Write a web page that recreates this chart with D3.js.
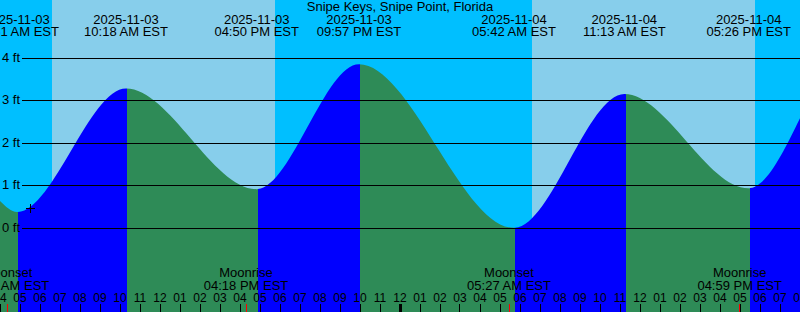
<!DOCTYPE html>
<html>
<head>
<meta charset="utf-8">
<script src="https://cdn.jsdelivr.net/npm/d3@7"></script>
<style>
  body { margin: 0; background: #fff; }
  svg { display: block; font-family: "Liberation Sans", Arial, sans-serif; }
</style>
</head>
<body>
<div id="chart"></div>
<script>
// station
var stationName = "Snipe Keys, Snipe Point, Florida";

// visible time window
var startTime = "2025-11-03 04:00";
var endTime   = "2025-11-04 20:00";

// high / low tides (EST, ft)
var tideTimes   = ["2025-11-03 04:51", "2025-11-03 10:18", "2025-11-03 16:50", "2025-11-03 21:57",
                   "2025-11-04 05:42", "2025-11-04 11:13", "2025-11-04 17:26"];
var tideHeights = [0.38, 3.29, 0.92, 3.86, 0.01, 3.16, 0.94];

// water level where the curve meets the left / right edge
var edgeTimes   = ["2025-11-03 04:00", "2025-11-04 20:00"];
var edgeHeights = [0.64, 2.59];

// sunrise / sunset
var sunriseTimes = ["2025-11-03 06:36", "2025-11-04 06:36"];
var sunsetTimes  = ["2025-11-03 17:45", "2025-11-04 17:45"];

// moon
var moonTimes  = ["2025-11-03 04:22", "2025-11-03 16:18", "2025-11-04 05:27", "2025-11-04 16:59"];
var moonEvents = ["Moonset", "Moonrise", "Moonset", "Moonrise"];

// height axis
var heightTicks = [0, 1, 2, 3, 4];

// "now" mark
var markTime = "2025-11-03 05:31";
var markHeight = 0.46;

var W = 800, H = 312;
var parse = d3.utcParse("%Y-%m-%d %H:%M");
var fmtDate = d3.utcFormat("%Y-%m-%d");
var fmtTime = d3.utcFormat("%I:%M %p EST");
var fmtHour = d3.utcFormat("%I");

var x = d3.scaleUtc().domain([parse(startTime), parse(endTime)]).range([0, W]);
var y = d3.scaleLinear().domain([0, 4]).range([228.25, 58.25]);

var svg = d3.select("#chart").append("svg")
  .attr("width", W).attr("height", H)
  .attr("viewBox", "0 0 " + W + " " + H);

// night background, then daylight bands
svg.append("rect").attr("width", W).attr("height", H).attr("fill", "#00bfff");
svg.selectAll("rect.day").data(sunriseTimes).enter()
  .append("rect").attr("class", "day")
  .attr("x", function(d) { return Math.round(x(parse(d))); })
  .attr("width", function(d, i) { return Math.round(x(parse(sunsetTimes[i]))) - Math.round(x(parse(d))); })
  .attr("y", 0).attr("height", H)
  .attr("fill", "#87ceeb")
  .attr("shape-rendering", "crispEdges");

// all curve points in time order
var pts = tideTimes.map(function(t, i) { return {t: parse(t), h: tideHeights[i]}; })
  .concat(edgeTimes.map(function(t, i) { return {t: parse(t), h: edgeHeights[i]}; }))
  .sort(function(a, b) { return a.t - b.t; });

// split into rising / falling stretches (the colour turns a column after the extreme)
var defs = svg.append("defs");
var riseClip = defs.append("clipPath").attr("id", "rise");
var fallClip = defs.append("clipPath").attr("id", "fall");
for (var i = 0; i < pts.length - 1; i++) {
  var x0 = i === 0 ? -10 : Math.ceil(x(pts[i].t)) + 1;
  var x1 = i === pts.length - 2 ? W + 10 : Math.ceil(x(pts[i + 1].t)) + 1;
  (pts[i + 1].h > pts[i].h ? riseClip : fallClip).append("rect")
    .attr("x", x0).attr("y", 0).attr("width", x1 - x0).attr("height", H);
}

var area = d3.area()
  .x(function(d) { return x(d.t); })
  .y0(H)
  .y1(function(d) { return y(d.h); })
  .curve(d3.curveMonotoneX);

svg.append("path").datum(pts).attr("d", area)
  .attr("fill", "#0000ff").attr("clip-path", "url(#rise)");
svg.append("path").datum(pts).attr("d", area)
  .attr("fill", "#2e8b57").attr("clip-path", "url(#fall)");

// height grid + labels
var grid = svg.append("g").attr("shape-rendering", "crispEdges");
grid.selectAll("line").data(heightTicks).enter().append("line")
  .attr("x1", 22).attr("x2", W)
  .attr("y1", function(d) { return Math.floor(y(d)) + 0.5; })
  .attr("y2", function(d) { return Math.floor(y(d)) + 0.5; })
  .attr("stroke", "#000").attr("stroke-width", 1);
svg.selectAll("text.ylab").data(heightTicks).enter().append("text")
  .attr("class", "ylab")
  .attr("x", 2)
  .attr("y", function(d) { return Math.floor(y(d)) + 4; })
  .attr("font-size", 13)
  .text(function(d) { return d + " ft"; });

// title
svg.append("text").attr("x", W / 2).attr("y", 11)
  .attr("text-anchor", "middle").attr("font-size", 13)
  .text(stationName);

// tide time labels
var tl = svg.selectAll("g.tlab").data(tideTimes).enter().append("g")
  .attr("class", "tlab")
  .attr("transform", function(d) { return "translate(" + x(parse(d)) + ",0)"; })
  .attr("text-anchor", "middle").attr("font-size", 13);
tl.append("text").attr("y", 24).text(function(d) { return fmtDate(parse(d)); });
tl.append("text").attr("y", 36).text(function(d) { return fmtTime(parse(d)); });

// moon labels
var ml = svg.selectAll("g.mlab").data(moonTimes).enter().append("g")
  .attr("class", "mlab")
  .attr("transform", function(d) { return "translate(" + x(parse(d)) + ",0)"; })
  .attr("text-anchor", "middle").attr("font-size", 13);
ml.append("text").attr("y", 277).text(function(d, i) { return moonEvents[i]; });
ml.append("text").attr("y", 289.5).text(function(d) { return fmtTime(parse(d)); });

// hour axis
var hours = x.ticks(d3.utcHour.every(1));
svg.selectAll("text.hour").data(hours).enter().append("text")
  .attr("class", "hour")
  .attr("x", function(d) { return x(d); })
  .attr("y", 301.5)
  .attr("text-anchor", "middle").attr("font-size", 12)
  .text(function(d) { return fmtHour(d); });

var ticks = svg.append("g").attr("shape-rendering", "crispEdges");
ticks.selectAll("rect.hr").data(hours).enter().append("rect")
  .attr("class", "hr")
  .attr("x", function(d) { return d.getUTCHours() === 0 ? Math.floor(x(d)) - 1 : Math.floor(x(d)); })
  .attr("width", function(d) { return d.getUTCHours() === 0 ? 3 : 1; })
  .attr("y", 304).attr("height", H - 304)
  .attr("fill", "#000");
ticks.selectAll("rect.moon").data(moonTimes).enter().append("rect")
  .attr("class", "moon")
  .attr("x", function(d) { return Math.floor(x(parse(d))); })
  .attr("width", 1)
  .attr("y", 304).attr("height", H - 304)
  .attr("fill", "#ff0000");

// now mark
var mx = Math.floor(x(parse(markTime))) + 0.5;
var my = Math.floor(y(markHeight)) + 0.5;
svg.append("path")
  .attr("d", "M" + (mx - 4.5) + "," + my + "H" + (mx + 4.5) + "M" + mx + "," + (my - 4.5) + "V" + (my + 4.5))
  .attr("stroke", "#000").attr("stroke-width", 1).attr("fill", "none")
  .attr("shape-rendering", "crispEdges");
</script>
</body>
</html>
